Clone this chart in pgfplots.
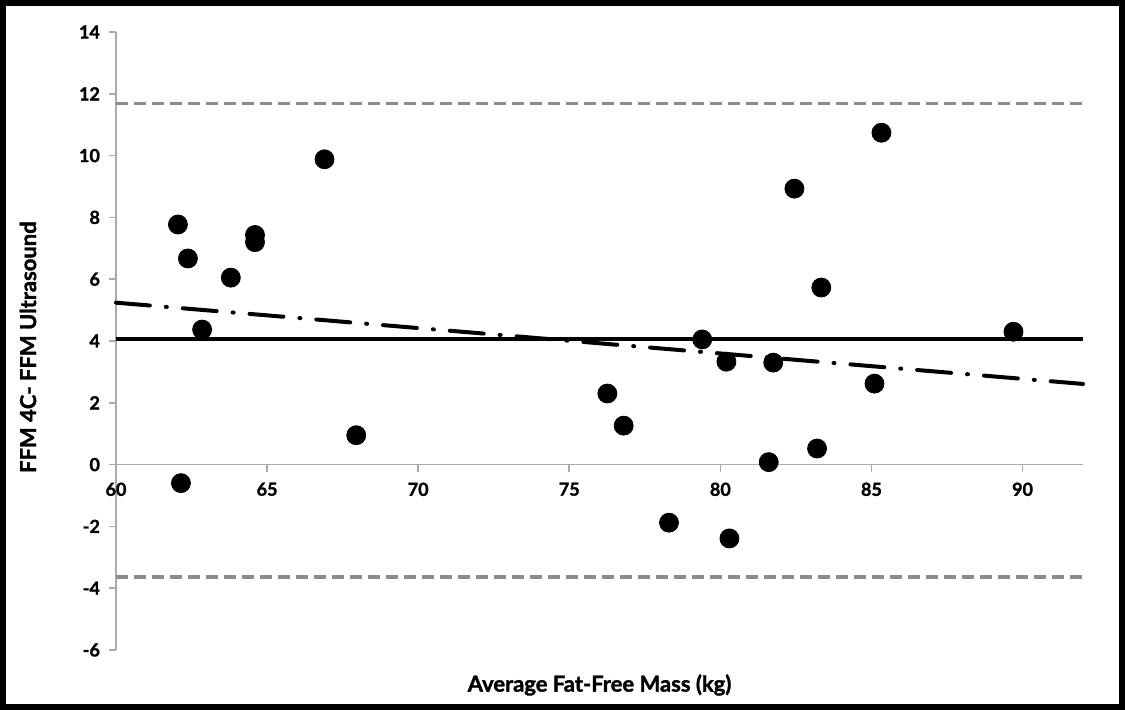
\documentclass[border=0pt]{standalone}
\usepackage{pgfplots}
\pgfplotsset{compat=1.18}
\usepackage{fontspec}
\setmainfont{Lato}[BoldFeatures={FakeBold=1.5}]
\definecolor{axgray}{RGB}{170,170,170}
\definecolor{dashgray}{RGB}{140,140,140}
\begin{document}
\begin{tikzpicture}
\begin{axis}[
  name=ax,
  at={(0,0)}, anchor=south west,
  scale only axis,
  width=483.5pt, height=309pt,
  xmin=60, xmax=92, ymin=-6, ymax=14,
  axis x line=middle, axis y line=left,
  axis line style={-, draw=axgray, line width=0.8pt},
  hide obscured x ticks=false, hide obscured y ticks=false,
  xtick={60,65,...,90}, ytick={-6,-4,...,14},
  xtick align=outside, ytick align=outside,
  major tick length=3.5pt,
  tick style={draw=axgray, line width=0.8pt},
  /pgf/number format/assume math mode=true,
  ticklabel style={font=\fontsize{9}{10}\selectfont\bfseries},
  xticklabel style={yshift=-2pt},
  yticklabel style={xshift=-1pt},
  xlabel={Average Fat-Free Mass (kg)},
  ylabel={FFM 4C- FFM Ultrasound},
  every axis x label/.style={at={(axis description cs:0.5,-0.0566)}, anchor=center, font=\fontsize{11}{12}\selectfont\bfseries},
  every axis y label/.style={at={(axis description cs:-0.091,0.49)}, rotate=90, anchor=center, font=\fontsize{11}{12}\selectfont\bfseries},
  clip=false,
]
\addplot[draw=dashgray, line width=1.6pt, dash pattern=on 6pt off 3pt] coordinates {(60,11.68) (92,11.68)};
\addplot[draw=dashgray, line width=1.6pt, dash pattern=on 6pt off 3pt] coordinates {(60,-3.64) (92,-3.64)};
\addplot[draw=black, line width=2pt] coordinates {(60,4.05) (92,4.05)};
\addplot[draw=black, line width=2pt, line cap=round, dash pattern=on 17pt off 8pt on 0.5pt off 8pt] coordinates {(60,5.24) (92,2.61)};
\addplot[only marks, mark=*, mark size=4.75pt, mark options={fill=black, draw=black}] coordinates {
(62.05,7.77)
(62.38,6.67)
(62.85,4.37)
(62.15,-0.6)
(63.8,6.05)
(64.6,7.43)
(64.6,7.2)
(66.9,9.88)
(67.95,0.95)
(76.26,2.3)
(76.8,1.26)
(78.3,-1.88)
(79.4,4.05)
(80.2,3.33)
(80.3,-2.39)
(81.6,0.08)
(81.75,3.3)
(82.45,8.93)
(83.2,0.52)
(83.34,5.73)
(85.1,2.62)
(85.33,10.74)
(89.7,4.3)
};
\end{axis}
\pgfresetboundingbox
\draw[line width=2.8pt, black] ([shift={(-56.6pt,-28.6pt)}]ax.south west) rectangle ([shift={(503.1pt,323.6pt)}]ax.south west);
\path[use as bounding box] ([shift={(-58pt,-30pt)}]ax.south west) rectangle ([shift={(504.5pt,325pt)}]ax.south west);
\end{tikzpicture}
\end{document}
